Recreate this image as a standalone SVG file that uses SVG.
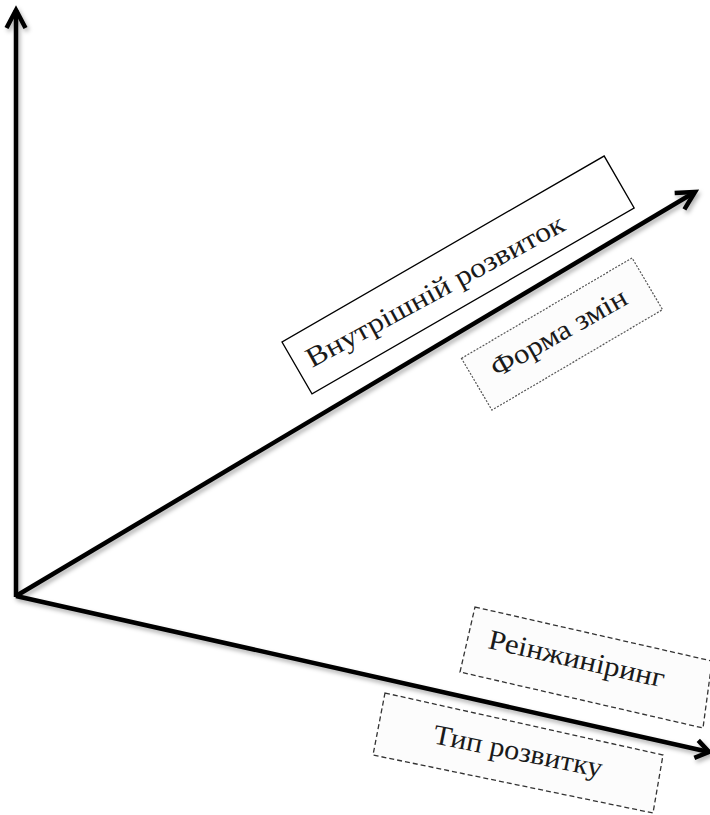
<svg xmlns="http://www.w3.org/2000/svg" width="710" height="815" viewBox="0 0 710 815">
  <style>
    .axis { fill: none; stroke: #000; stroke-width: 4.5; }
    .lbl { font-family: "Liberation Serif", "Times New Roman", serif; font-size: 28px; fill: #1a1a1a; }
    .solid { fill: #fff; stroke: #000; stroke-width: 1.3; }
    .dashed { fill: #fcfcfc; stroke: #333; stroke-width: 1.3; stroke-dasharray: 5 3; }
    .dotted { fill: #fcfcfc; stroke: #555; stroke-width: 1.2; stroke-dasharray: 2 1.5; }
  </style>
  <defs>
    <filter id="sh" x="-10%" y="-10%" width="120%" height="120%">
      <feDropShadow dx="2" dy="3" stdDeviation="2" flood-color="#000" flood-opacity="0.3"/>
    </filter>
    <marker id="ah" markerUnits="userSpaceOnUse" viewBox="-25 -15 30 30" markerWidth="30" markerHeight="30" refX="0" refY="0" orient="auto">
      <path d="M -18 -9.5 L 0 0 L -18 9.5" fill="none" stroke="#000" stroke-width="4.5"/>
    </marker>
    <marker id="ahs" markerUnits="userSpaceOnUse" viewBox="-25 -15 30 30" markerWidth="30" markerHeight="30" refX="0" refY="0" orient="auto">
      <path d="M -13 -9 L 0 0 L -13 9" fill="none" stroke="#000" stroke-width="4.5"/>
    </marker>
  </defs>
  <rect x="0" y="0" width="710" height="815" fill="#fff"/>

  <g id="connectors" filter="url(#sh)">
    <path class="axis" d="M16,597 L16,10" marker-end="url(#ah)"/>
    <path class="axis" d="M16,596 L695,192" marker-end="url(#ah)"/>
    <path class="axis" d="M16,596 L709,752" marker-end="url(#ahs)"/>
  </g>

  <g id="node-vnutrishnii">
    <rect class="solid" x="0" y="0" width="372" height="60" transform="translate(282,342) rotate(-30)"/>
    <text class="lbl" x="0" y="0" textLength="290" lengthAdjust="spacingAndGlyphs" transform="translate(312,368) rotate(-28.5)">Внутрішній розвиток</text>
  </g>

  <g id="node-forma">
    <rect class="dotted" x="-99" y="-30" width="198" height="60" transform="translate(562,334) rotate(-30.5)"/>
    <text class="lbl" x="0" y="0" textLength="152" lengthAdjust="spacingAndGlyphs" transform="translate(497,378) rotate(-29.5)">Форма змін</text>
  </g>

  <g id="node-reinzhyniryng">
    <polygon class="dashed" points="475,607 712,661 703,728 460,672"/>
    <text class="lbl" x="0" y="0" textLength="180" lengthAdjust="spacingAndGlyphs" transform="translate(487,648) rotate(12.7)">Реінжиніринг</text>
  </g>

  <g id="node-typ">
    <polygon class="dashed" points="385,693 663,755 653,813 373,755"/>
    <text class="lbl" x="0" y="0" textLength="172" lengthAdjust="spacingAndGlyphs" transform="translate(432,743) rotate(11.5)">Тип розвитку</text>
  </g>
</svg>
